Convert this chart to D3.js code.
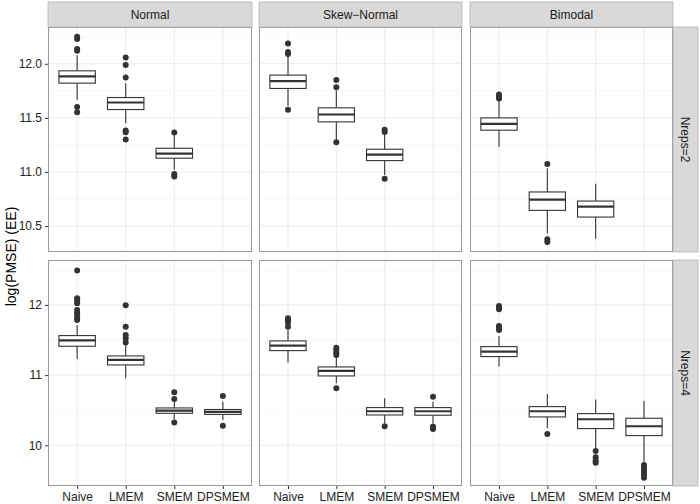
<!DOCTYPE html>
<html><head><meta charset="utf-8">
<script src="https://cdn.jsdelivr.net/npm/d3@7"></script>
<style>body{margin:0;background:#fff}svg{display:block}text{font-family:"Liberation Sans",Arial,sans-serif}</style>
</head><body>
<script>
const methods = ["Naive","LMEM","SMEM","DPSMEM"];
const distributions = ["Normal","Skew\u2212Normal","Bimodal"];
const nreps = ["Nreps=2","Nreps=4"];
const yTicksRow1 = [10.5,11.0,11.5,12.0];
const yTicksRow2 = [10,11,12];
const yDomainRow1 = [10.26,12.34];
const yDomainRow2 = [9.42,12.64];

// box stats: [lowerWhisker, q1, median, q3, upperWhisker]
const normal2 = [[11.667,11.821,11.883,11.935,12.08],[11.45,11.577,11.642,11.688,11.82],[11.02,11.127,11.170,11.219,11.34],null];
const normal2Out = [[12.25,12.23,12.136,12.12,11.60,11.553],[12.059,11.988,11.873,11.383,11.367,11.30],[11.364,10.98,10.957],[]];
const skew2 = [[11.611,11.772,11.84,11.895,12.068],[11.296,11.463,11.531,11.593,11.753],[10.972,11.105,11.16,11.21,11.358],null];
const skew2Out = [[12.188,12.108,12.09,11.574],[11.849,11.784,11.275],[11.389,11.37,10.938],[]];
const bimodal2 = [[11.231,11.386,11.444,11.5,11.66],[10.432,10.645,10.744,10.815,11.034],[10.383,10.583,10.679,10.731,10.892],null];
const bimodal2Out = [[11.716,11.698,11.679],[11.074,10.377,10.352],[],[]];

const normal4 = [[11.23,11.411,11.496,11.563,11.715],[10.955,11.145,11.216,11.273,11.43],[10.37,10.456,10.494,10.532,10.622],[10.36,10.44,10.475,10.51,10.62]];
const normal4Out = [[12.49,12.095,12.062,12.024,11.929,11.89,11.858,11.81,11.786],[11.995,11.69,11.572,11.525,11.463],[10.755,10.66,10.323],[10.703,10.28]];
const skew4 = [[11.178,11.349,11.42,11.487,11.644],[10.884,10.988,11.06,11.116,11.273],[10.314,10.432,10.485,10.537,10.67],[10.314,10.428,10.485,10.537,10.62]];
const skew4Out = [[11.81,11.777,11.75,11.69],[11.39,11.359,11.32,11.287,10.812],[10.27],[10.69,10.266,10.233]];
const bimodal4 = [[11.121,11.264,11.335,11.406,11.558],[10.242,10.404,10.485,10.551,10.732],[9.957,10.238,10.371,10.451,10.651],[9.767,10.138,10.271,10.385,10.632]];
const bimodal4Out = [[11.986,11.962,11.938,11.70,11.677,11.644],[10.162],[9.92,9.829,9.781,9.753],[9.72,9.686,9.648,9.615,9.577,9.539]];

const panels = [
  [[normal2,normal2Out],[skew2,skew2Out],[bimodal2,bimodal2Out]],
  [[normal4,normal4Out],[skew4,skew4Out],[bimodal4,bimodal4Out]]
];

const W=700,H=504;
const svg=d3.select("body").append("svg").attr("width",W).attr("height",H);
const colX=[[48,252],[259,462],[470,673]];
const rowY=[[27,252],[260,486]];
const stripTop=2, stripRight=[673,698];
const yDomains=[yDomainRow1,yDomainRow2];
const yTicks=[yTicksRow1,yTicksRow2];
const ink="#333333";

for(let r=0;r<2;r++){
  const y=d3.scaleLinear().domain(yDomains[r]).range([rowY[r][1],rowY[r][0]]);
  const major=yTicks[r];
  const step=major[1]-major[0];
  const minor=d3.range(major[0]-step/2, yDomains[r][1], step).filter(v=>v>yDomains[r][0]&&v<yDomains[r][1]);
  for(let c=0;c<3;c++){
    const unit=(colX[c][1]-colX[c][0])/(methods.length-1+1.2);
    const xs=d3.scalePoint().domain(methods).range([colX[c][0]+unit*0.6, colX[c][1]-unit*0.6]);
    const xc=d=>xs(d);
    const g=svg.append("g");
    g.append("rect").attr("x",colX[c][0]).attr("y",rowY[r][0]).attr("width",colX[c][1]-colX[c][0]).attr("height",rowY[r][1]-rowY[r][0]).attr("fill","#fff");
    g.selectAll(".mn").data(minor).join("line").attr("x1",colX[c][0]).attr("x2",colX[c][1]).attr("y1",d=>y(d)).attr("y2",d=>y(d)).attr("stroke","#f2f2f2").attr("stroke-width",0.6);
    g.selectAll(".mj").data(major).join("line").attr("x1",colX[c][0]).attr("x2",colX[c][1]).attr("y1",d=>y(d)).attr("y2",d=>y(d)).attr("stroke","#ebebeb").attr("stroke-width",1);
    g.selectAll(".vx").data(methods).join("line").attr("x1",xc).attr("x2",xc).attr("y1",rowY[r][0]).attr("y2",rowY[r][1]).attr("stroke","#ebebeb").attr("stroke-width",1);
    const [stats,outs]=panels[r][c];
    const bw=unit*0.75;
    methods.forEach((m,i)=>{
      const s=stats[i]; if(!s) return;
      const cx=xc(m);
      g.append("line").attr("x1",cx).attr("x2",cx).attr("y1",y(s[4])).attr("y2",y(s[3])).attr("stroke",ink).attr("stroke-width",1.1);
      g.append("line").attr("x1",cx).attr("x2",cx).attr("y1",y(s[1])).attr("y2",y(s[0])).attr("stroke",ink).attr("stroke-width",1.1);
      g.append("rect").attr("x",cx-bw/2).attr("y",y(s[3])).attr("width",bw).attr("height",y(s[1])-y(s[3])).attr("fill","#fff").attr("stroke",ink).attr("stroke-width",1.1);
      g.append("line").attr("x1",cx-bw/2).attr("x2",cx+bw/2).attr("y1",y(s[2])).attr("y2",y(s[2])).attr("stroke",ink).attr("stroke-width",2.2);
      g.selectAll(null).data(outs[i]).join("circle").attr("cx",cx).attr("cy",d=>y(d)).attr("r",3).attr("fill",ink);
    });
    g.append("rect").attr("x",colX[c][0]+0.5).attr("y",rowY[r][0]+0.5).attr("width",colX[c][1]-colX[c][0]-1).attr("height",rowY[r][1]-rowY[r][0]-1).attr("fill","none").attr("stroke","#999").attr("stroke-width",1);
    if(c===0){
      const ax=svg.append("g").attr("transform",`translate(${colX[0][0]},0)`).call(d3.axisLeft(y).tickValues(major).tickFormat(r===0?d3.format(".1f"):d3.format("d")).tickSize(3).tickPadding(3));
      ax.select(".domain").remove();
      ax.selectAll("line").attr("stroke",ink);
      ax.selectAll("text").attr("font-size",12).attr("fill","#222").attr("font-family","Liberation Sans,Arial,sans-serif");
    }
    if(r===1){
      const ax=svg.append("g").attr("transform",`translate(0,${rowY[1][1]})`).call(d3.axisBottom(xs).tickSize(3).tickPadding(3));
      ax.select(".domain").remove();
      ax.selectAll("line").attr("stroke",ink);
      ax.selectAll("text").attr("font-size",12).attr("fill","#222").attr("font-family","Liberation Sans,Arial,sans-serif");
    }
    if(r===0){
      svg.append("rect").attr("x",colX[c][0]).attr("y",stripTop).attr("width",colX[c][1]-colX[c][0]).attr("height",rowY[0][0]-stripTop).attr("fill","#d9d9d9").attr("stroke","#b3b3b3").attr("stroke-width",0.8);
      svg.append("text").attr("x",(colX[c][0]+colX[c][1])/2).attr("y",(stripTop+rowY[0][0])/2).attr("dy","0.35em").attr("text-anchor","middle").attr("font-size",12).attr("fill","#1a1a1a").text(distributions[c]);
    }
  }
  svg.append("rect").attr("x",stripRight[0]).attr("y",rowY[r][0]).attr("width",stripRight[1]-stripRight[0]).attr("height",rowY[r][1]-rowY[r][0]).attr("fill","#d9d9d9").attr("stroke","#b3b3b3").attr("stroke-width",0.8);
  const mx=(stripRight[0]+stripRight[1])/2, my=(rowY[r][0]+rowY[r][1])/2;
  svg.append("text").attr("transform",`translate(${mx},${my}) rotate(90)`).attr("dy","0.35em").attr("text-anchor","middle").attr("font-size",12).attr("fill","#1a1a1a").text(nreps[r]);
}
svg.append("text").attr("transform",`translate(11,${(rowY[0][0]+rowY[1][1])/2}) rotate(-90)`).attr("dy","0.35em").attr("text-anchor","middle").attr("font-size",14).attr("fill","#000").text("log(PMSE) (EE)");
</script>
</body></html>
